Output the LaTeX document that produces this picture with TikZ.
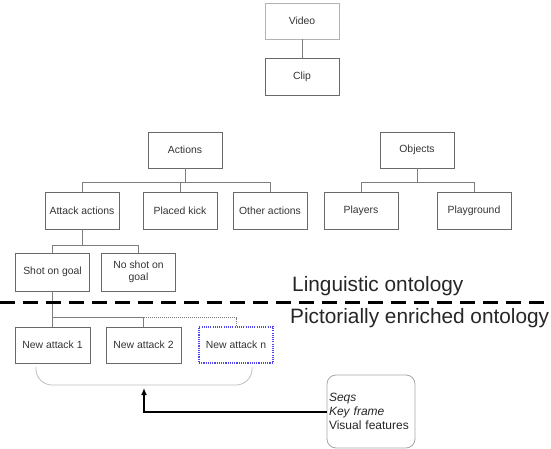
\documentclass[tikz,border=0pt]{standalone}
\usepackage{fontspec}
\setmainfont{Liberation Sans}
\usepackage{color}
\usepackage{tikz}
\usetikzlibrary{arrows.meta}
\definecolor{boxgray}{RGB}{105,105,105}
\definecolor{linegray}{RGB}{125,125,125}
\definecolor{dotblue}{RGB}{80,70,235}

\begin{document}
\begin{tikzpicture}[
  box/.style={draw=boxgray,line width=0.9pt,text=black!80,font=\fontsize{10.4}{12.5}\selectfont,
    minimum width=74pt,minimum height=37pt,inner sep=1pt,align=center},
  conn/.style={draw=linegray,line width=0.9pt},
  big/.style={font=\fontsize{20.8}{24}\selectfont,text=black!85,anchor=base west,inner sep=0pt}]
\useasboundingbox (0pt,0pt) rectangle (551pt,-449pt);
\node[box,draw=black!30,minimum height=36pt] (video) at (302pt,-21pt) {Video};
\node[box] (clip) at (302pt,-76.5pt) {Clip};
\node[box,minimum height=36pt] (actions) at (185pt,-150pt) {Actions};
\node[box,minimum height=36pt] (objects) at (417pt,-150pt) {Objects};
\node[box] (attack) at (82pt,-210.5pt) {Attack actions};
\node[box] (placed) at (180pt,-210.5pt) {Placed kick};
\node[box] (other) at (270pt,-210.5pt) {Other actions};
\node[box] (players) at (361pt,-210.5pt) {Players};
\node[box] (playground) at (474pt,-210.5pt) {Playground};
\node[box,minimum height=38pt] (shot) at (52.5pt,-272pt) {Shot on goal};
\node[box,minimum height=38pt] (noshot) at (138.5pt,-272pt) {No shot on\\goal};
\node[box,minimum width=75pt,minimum height=36pt] (new1) at (52.5pt,-345pt) {New attack 1};
\node[box,minimum width=75pt,minimum height=36pt] (new2) at (143.5pt,-345pt) {New attack 2};
\node[box,draw=dotblue,line width=1.1pt,dash pattern=on 1.1pt off 1.1pt,minimum height=36pt] (newn) at (236pt,-345pt) {New attack n};
\node[draw=black!35,line width=0.8pt,rounded corners=9pt,minimum width=88pt,minimum height=73pt,
  text width=84pt,inner sep=2pt,align=left,text=black!85,font=\fontsize{12}{14}\selectfont]
  (info) at (371pt,-411.5pt) {\textit{Seqs}\\\textit{Key frame}\\Visual features};
\node[big] (ling) at (292pt,-291pt) {Linguistic ontology};
\node[big] (pict) at (290pt,-323pt) {Pictorially enriched ontology};
\coordinate (sepL) at (0pt,-302pt);
\coordinate (sepR) at (551pt,-302pt);
\coordinate (bracetip) at (144pt,-388pt);
\draw[conn] (video) -- (clip);
\draw[conn] (actions.south) -- ++(0,-14pt) -| (attack.north);
\draw[conn] (actions.south) -- ++(0,-14pt) -| (placed.north);
\draw[conn] (actions.south) -- ++(0,-14pt) -| (other.north);
\draw[conn] (objects.south) -- ++(0,-14pt) -| (players.north);
\draw[conn] (objects.south) -- ++(0,-14pt) -| (playground.north);
\draw[conn] (attack.south) -- ++(0,-16pt) -| (shot.north);
\draw[conn] (attack.south) -- ++(0,-16pt) -| (noshot.north);
\draw[conn] (shot.south) -- (new1.north);
\draw[conn] (new1.north) ++(0,9pt) -| (new2.north);
\draw[conn,dash pattern=on 1pt off 1pt] (new2.north) ++(0,9pt) -| (newn.north);
\draw[line width=3pt,dash pattern=on 15pt off 8pt] (sepL) -- (sepR);
\draw[black!25,line width=0.8pt,rounded corners=16pt] (36pt,-367pt) |- (144pt,-385pt) -| (252pt,-367pt);
\draw[-{Latex[length=7pt,width=6pt]},line width=2pt] (info.west) -| (bracetip);
\end{tikzpicture}
\end{document}
